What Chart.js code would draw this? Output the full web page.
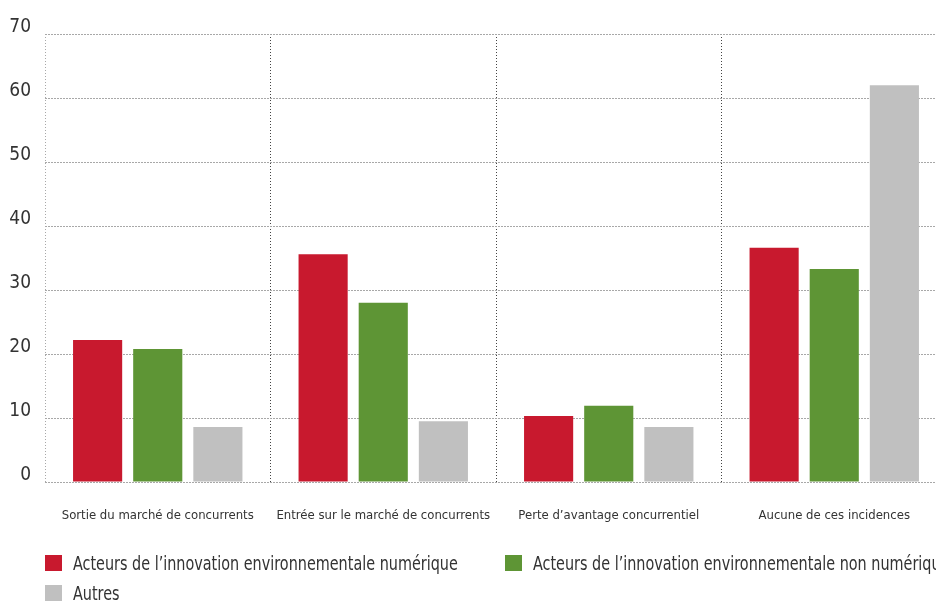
<!DOCTYPE html>
<html lang="fr">
<head>
<meta charset="utf-8">
<script src="https://cdn.jsdelivr.net/npm/chart.js@4"></script>
<style>
  html, body { margin: 0; padding: 0; background: #fff; overflow: hidden; }
  #wrap { position: relative; width: 936px; height: 601px; overflow: hidden; }
  #box { position: absolute; left: 0; top: 0; width: 960px; height: 601px; }
  #legend {
    position: absolute; left: 45px; top: 548px; width: 960px;
    display: grid; grid-template-columns: 460px auto; grid-auto-rows: 30px;
    font-family: "Liberation Sans Narrow", "DejaVu Sans Condensed", sans-serif;
    font-size: 20px; color: #333; white-space: nowrap;
  }
  .item { display: flex; align-items: center; }
  .swatch { width: 17px; height: 16px; margin-right: 11px; flex: none; }
  .name { display: inline-block; transform: scaleX(0.8); transform-origin: left center; }
</style>
</head>
<body>
<div id="wrap">
  <div id="box"><canvas id="incidenceChart" width="960" height="601"></canvas></div>
  <div id="legend"></div>
</div>
<script>
const categories = [
    'Sortie du marché de concurrents',
    'Entrée sur le marché de concurrents',
    'Perte d’avantage concurrentiel',
    'Aucune de ces incidences'
];
const seriesNames = [
    'Acteurs de l’innovation environnementale numérique',
    'Acteurs de l’innovation environnementale non numérique',
    'Autres'
];
const numerique = [22.2, 35.6, 10.3, 36.6];
const nonNumerique = [20.8, 28.0, 11.9, 33.3];
const autres = [8.6, 9.5, 8.6, 62.0];
const seriesColors = ['#c8192e', '#5e9535', '#c0c0c0'];
const yTicks = [0, 10, 20, 30, 40, 50, 60, 70];

const fontFamily = '"Liberation Sans Narrow", "DejaVu Sans Condensed", sans-serif';

// legend below the plot, two columns
const legendEl = document.getElementById('legend');
seriesNames.forEach((name, i) => {
    let item = document.createElement('div');
    item.className = 'item';
    let sw = document.createElement('span');
    sw.className = 'swatch';
    sw.style.background = seriesColors[i];
    let txt = document.createElement('span');
    txt.className = 'name';
    txt.textContent = name;
    item.appendChild(sw);
    item.appendChild(txt);
    legendEl.appendChild(item);
});

let ctx = document.getElementById('incidenceChart').getContext('2d');
new Chart(ctx, {
    type: 'bar',
    data: {
        labels: categories,
        datasets: [numerique, nonNumerique, autres].map((values, i) => ({
            label: seriesNames[i],
            data: values,
            backgroundColor: seriesColors[i],
            categoryPercentage: 0.8,
            barPercentage: 0.817
        }))
    },
    options: {
        responsive: false,
        animation: false,
        layout: { padding: { top: 34, right: 13, bottom: 0, left: 0 } },
        plugins: {
            legend: { display: false },
            tooltip: { enabled: false }
        },
        scales: {
            x: {
                afterFit: (scale) => { scale.height = 119; },
                grid: {
                    offset: true,
                    drawTicks: false,
                    color: (c) => c.index === 0 ? '#a8a8a8' : '#444',
                    lineWidth: 1
                },
                border: { display: false, dash: [1, 2] },
                ticks: {
                    padding: 26,
                    color: '#333',
                    font: { family: fontFamily, size: 13 },
                    maxRotation: 0,
                    autoSkip: false
                }
            },
            y: {
                min: 0,
                max: 70,
                afterFit: (scale) => { scale.width = 45; },
                afterBuildTicks: (scale) => { scale.ticks = yTicks.map(v => ({ value: v })); },
                grid: {
                    drawTicks: false,
                    color: '#a8a8a8',
                    lineWidth: 1
                },
                border: { display: false, dash: [2, 1] },
                ticks: {
                    padding: 14,
                    labelOffset: -7,
                    color: '#333',
                    font: { family: fontFamily, size: 19 }
                }
            }
        }
    }
});
</script>
</body>
</html>
